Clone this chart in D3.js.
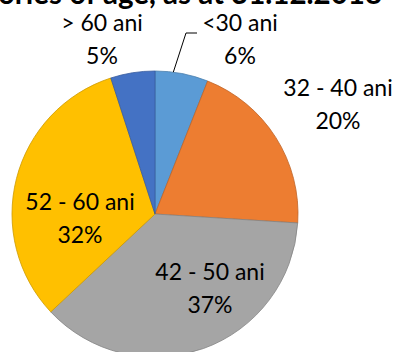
<!DOCTYPE html>
<html>
<head>
<meta charset="utf-8">
<script src="https://cdn.jsdelivr.net/npm/d3@7"></script>
<style>
  html, body { margin: 0; padding: 0; background: #fff; }
  svg { display: block; }
  text { font-family: Lato, "Open Sans", sans-serif; fill: #000; }
</style>
</head>
<body>
<svg id="chart" width="399" height="352"></svg>
<script>
// Age groups and their share of staff (percent)
const categories = ["<30 ani", "32 - 40 ani", "42 - 50 ani", "52 - 60 ani", "> 60 ani"];
const shares = [6, 20, 37, 32, 5];
const colors = ["#5B9BD5", "#ED7D31", "#A5A5A5", "#FFC000", "#4472C4"];
const title = "Structure by categories of age, as at 31.12.2018";

// Label anchor (centre x, first-line baseline y) for each slice
const labelAnchors = [
  [240, 31], [338, 96], [210, 280], [80, 210], [102, 31]
];

const svg = d3.select("#chart");
const cx = 155, cy = 214, r = 143;

svg.append("text")
  .attr("x", 382).attr("y", 4)
  .attr("text-anchor", "end")
  .attr("font-size", 29.5)
  .attr("font-weight", 700)
  .text(title);

const pie = d3.pie().sort(null).value(d => d)(shares);
const arc = d3.arc().innerRadius(0).outerRadius(r);

const g = svg.append("g").attr("transform", `translate(${cx},${cy})`);
g.selectAll("path")
  .data(pie)
  .join("path")
  .attr("d", arc)
  .attr("fill", (d, i) => colors[i])
  .attr("stroke", (d, i) => d3.color(colors[i]).darker(0.6))
  .attr("stroke-width", 0.8);

// Leader line for the smallest upper slice
const leader = d3.line();
const a0 = pie[0];
const mid = (a0.startAngle + a0.endAngle) / 2 - 0.06;
const edge = [cx + r * Math.sin(mid), cy - r * Math.cos(mid)];
svg.append("path")
  .attr("d", leader([[197, 33], [186, 33], edge]))
  .attr("fill", "none")
  .attr("stroke", "#000")
  .attr("stroke-width", 1);

const labels = svg.append("g");
categories.forEach((c, i) => {
  const [x, y] = labelAnchors[i];
  const t = labels.append("text")
    .attr("text-anchor", "middle")
    .attr("font-size", 23);
  t.append("tspan").attr("x", x).attr("y", y).text(c);
  t.append("tspan").attr("x", x).attr("y", y + 33).text(shares[i] + "%");
});
</script>
</body>
</html>
